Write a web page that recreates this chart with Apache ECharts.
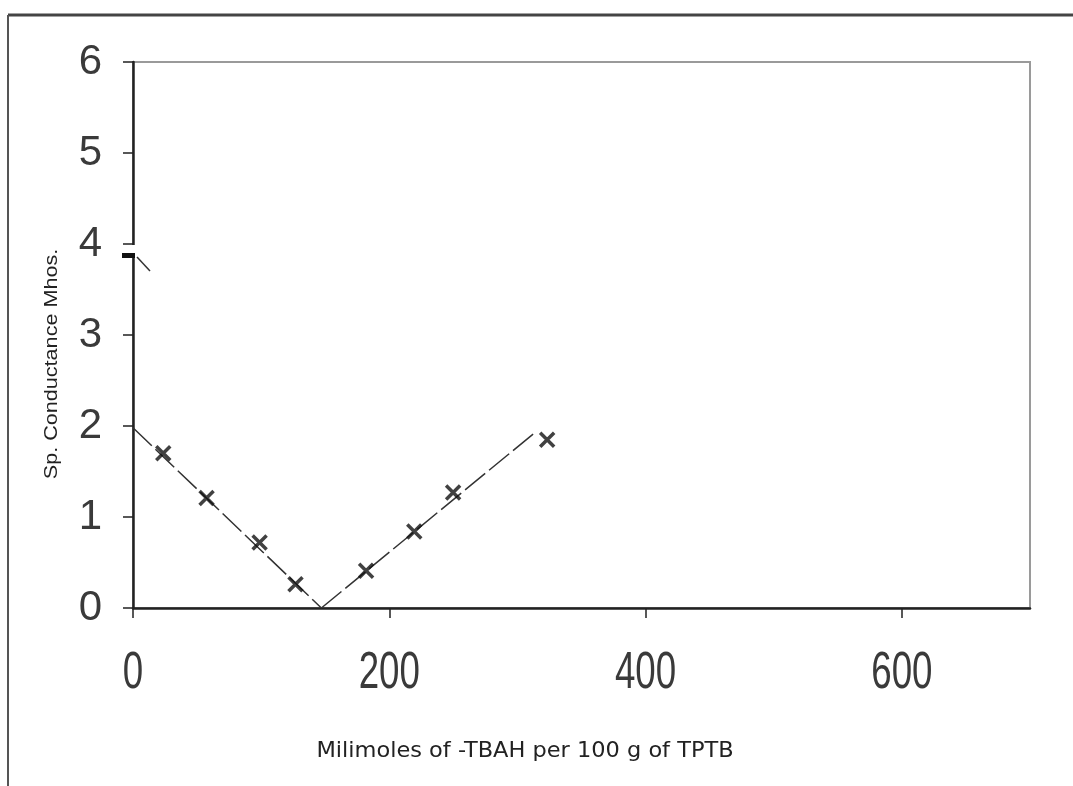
<!DOCTYPE html>
<html>
<head>
<meta charset="utf-8">
<script src="https://cdn.jsdelivr.net/npm/echarts@6/dist/echarts.min.js"></script>
<style>html,body{margin:0;padding:0;background:#fff;}#c{width:1073px;height:786px;}</style>
</head>
<body>
<div id="c"></div>
<script>
// Data
var pointsX = [23.6, 57.4, 98.8, 126.8, 181.9, 219.5, 249.8, 323.2];
var pointsY = [1.70, 1.21, 0.72, 0.26, 0.41, 0.84, 1.27, 1.85];
var fallLineX = [0, 147];
var fallLineY = [1.98, 0];
var riseLineX = [147, 313];
var riseLineY = [0, 1.92];
var xTicks = [0, 200, 400, 600];
var yTicks = [0, 1, 2, 3, 4, 5, 6];
var xTitle = 'Milimoles of -TBAH per 100 g of TPTB';
var yTitle = 'Sp. Conductance Mhos.';

function pairs(xs, ys) { return xs.map(function (x, i) { return [x, ys[i]]; }); }

var chart = echarts.init(document.getElementById('c'));
var xMark = 'path://M0,0L10,10M10,0L0,10';
var baseGraphic = [
  { id: 'ft', type: 'line', shape: { x1: 8, y1: 15, x2: 1073, y2: 15 }, style: { stroke: '#444', lineWidth: 3 } },
  { id: 'fl', type: 'line', shape: { x1: 8, y1: 15, x2: 8, y2: 786 }, style: { stroke: '#555', lineWidth: 2 } },
  { id: 'b1', type: 'rect', shape: { x: 128, y: 245, width: 10, height: 8 }, style: { fill: '#fff' }, z: 100 },
  { id: 'b2', type: 'rect', shape: { x: 122, y: 253, width: 13, height: 5 }, style: { fill: '#111' }, z: 101 },
  { id: 'b3', type: 'line', shape: { x1: 137, y1: 257, x2: 150, y2: 271 }, style: { stroke: '#333', lineWidth: 1.5 }, z: 101 },
  { id: 'xt', type: 'text', x: 525, y: 752, scaleX: 1.07, z: 101,
    style: { text: xTitle, fill: '#222', fontSize: 21, fontFamily: 'DejaVu Sans', align: 'center', verticalAlign: 'middle' } },
  { id: 'yt', type: 'text', x: 52, y: 364, rotation: Math.PI / 2, scaleX: 1.2, z: 101,
    style: { text: yTitle, fill: '#222', fontSize: 18, fontFamily: 'Liberation Sans', align: 'center', verticalAlign: 'middle' } }
];
chart.setOption({
  animation: false,
  backgroundColor: '#ffffff',
  grid: { left: 133, right: 43, top: 62, bottom: 178, show: true, borderColor: '#9a9a9a', borderWidth: 2 },
  xAxis: {
    type: 'value', min: 0, max: 700, interval: 200,
    axisLine: { show: true, onZero: false, lineStyle: { color: '#222', width: 2.5 } },
    axisTick: { show: true, length: 10, customValues: xTicks, lineStyle: { color: '#222', width: 1.5 } },
    splitLine: { show: false },
    axisLabel: { show: false }
  },
  yAxis: {
    type: 'value', min: 0, max: 6, interval: 1,
    axisLine: { show: true, onZero: false, lineStyle: { color: '#222', width: 2.5 } },
    axisTick: { show: true, length: 10, lineStyle: { color: '#222', width: 1.5 } },
    splitLine: { show: false },
    axisLabel: {
      margin: 31, color: '#3a3a3a', fontSize: 42, fontFamily: 'Liberation Sans',
      formatter: function (v) { return yTicks.indexOf(v) >= 0 ? String(v) : ''; }
    }
  },
  series: [
    { type: 'line', data: pairs(fallLineX, fallLineY), symbol: 'none',
      lineStyle: { color: '#333', width: 1.5, type: [26, 5] }, z: 3 },
    { type: 'line', data: pairs(riseLineX, riseLineY), symbol: 'none',
      lineStyle: { color: '#333', width: 1.5, type: [26, 5] }, z: 3 },
    { type: 'scatter', data: pairs(pointsX, pointsY), symbol: xMark, symbolSize: 14,
      itemStyle: { color: 'none', borderColor: '#111', borderWidth: 3.5 }, z: 4 }
  ],
  graphic: baseGraphic
});
// x tick labels placed through the axis scale (narrow, tall glyphs as in the reference)
var tickLabels = xTicks.map(function (v, i) {
  var px = chart.convertToPixel({ xAxisIndex: 0 }, v);
  return { id: 'xl' + i, type: 'text', x: px, y: 674, scaleX: 0.72, z: 101,
    style: { text: String(v), fill: '#3a3a3a', fontSize: 51, fontFamily: 'Liberation Sans', align: 'center', verticalAlign: 'middle' } };
});
chart.setOption({ graphic: baseGraphic.concat(tickLabels) });
</script>
</body>
</html>
